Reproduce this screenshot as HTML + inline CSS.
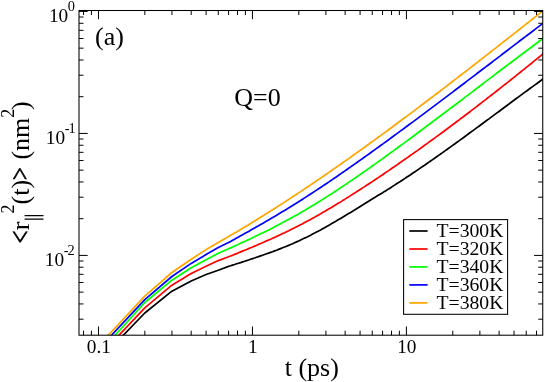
<!DOCTYPE html>
<html><head><meta charset="utf-8"><title>plot</title>
<style>html,body{margin:0;padding:0;background:#fff}svg{display:block;will-change:transform}text{font-family:"Liberation Serif",serif;fill:#000}</style></head><body>
<svg width="545" height="382" viewBox="0 0 545 382">
<rect width="545" height="382" fill="#fff"/>
<defs><clipPath id="c"><rect x="79.0" y="10.5" width="463.75" height="324.7"/></clipPath></defs>
<g clip-path="url(#c)" fill="none" stroke-linejoin="round" stroke-linecap="butt">
<polyline points="98.5,361.0 144.8,313.0 171.9,291.2 191.2,281.0 206.1,274.5 218.3,270.2 228.6,266.4 230.6,265.8 232.6,265.1 234.6,264.5 236.6,263.8 238.6,263.2 240.6,262.6 242.6,261.9 244.6,261.3 246.6,260.6 248.6,260.0 250.6,259.3 252.6,258.6 254.6,258.0 256.6,257.3 258.6,256.6 260.6,255.9 262.6,255.2 264.6,254.5 266.6,253.8 268.6,253.1 270.6,252.4 272.6,251.7 274.6,250.9 276.6,250.2 278.6,249.4 280.6,248.6 282.6,247.8 284.6,247.0 286.6,246.2 288.6,245.4 290.6,244.5 292.6,243.7 294.6,242.8 296.6,241.9 298.6,241.0 300.6,240.1 302.6,239.1 304.6,238.1 306.6,237.2 308.6,236.2 310.6,235.2 312.6,234.1 314.6,233.1 316.6,232.0 318.6,230.9 320.6,229.9 322.6,228.8 324.6,227.7 326.6,226.5 328.6,225.4 330.6,224.3 332.6,223.1 334.6,221.9 336.6,220.8 338.6,219.6 340.6,218.4 342.6,217.2 344.6,216.0 346.6,214.8 348.6,213.6 350.6,212.4 352.6,211.2 354.6,209.9 356.6,208.7 358.6,207.5 360.6,206.2 362.6,205.0 364.6,203.8 366.6,202.5 368.6,201.3 370.6,200.0 372.6,198.8 374.6,197.6 376.6,196.3 378.6,195.1 380.6,193.9 382.6,192.7 384.6,191.4 386.6,190.2 388.6,188.9 390.6,187.7 392.6,186.4 394.6,185.1 396.6,183.8 398.6,182.6 400.6,181.3 402.6,180.0 404.6,178.6 406.6,177.3 408.6,176.0 410.6,174.7 412.6,173.3 414.6,172.0 416.6,170.6 418.6,169.3 420.6,167.9 422.6,166.5 424.6,165.2 426.6,163.8 428.6,162.4 430.6,161.0 432.6,159.6 434.6,158.2 436.6,156.8 438.6,155.4 440.6,154.0 442.6,152.6 444.6,151.1 446.6,149.7 448.6,148.3 450.6,146.9 452.6,145.4 454.6,144.0 456.6,142.5 458.6,141.1 460.6,139.6 462.6,138.2 464.6,136.7 466.6,135.3 468.6,133.8 470.6,132.3 472.6,130.9 474.6,129.4 476.6,127.9 478.6,126.5 480.6,125.0 482.6,123.5 484.6,122.0 486.6,120.5 488.6,119.1 490.6,117.6 492.6,116.1 494.6,114.6 496.6,113.1 498.6,111.7 500.6,110.2 502.6,108.7 504.6,107.2 506.6,105.7 508.6,104.3 510.6,102.8 512.6,101.3 514.6,99.8 516.6,98.3 518.6,96.9 520.6,95.4 522.6,93.9 524.6,92.4 526.6,91.0 528.6,89.5 530.6,88.0 532.6,86.6 534.6,85.1 536.6,83.7 538.6,82.2 540.6,80.7 542.6,79.3 544.6,77.9" stroke="#000000" stroke-width="1.7"/>
<polyline points="98.5,357.0 144.8,307.8 171.9,285.2 191.2,273.4 206.1,266.2 218.3,260.6 228.6,256.8 230.6,256.0 232.6,255.2 234.6,254.4 236.6,253.6 238.6,252.7 240.6,251.9 242.6,251.1 244.6,250.3 246.6,249.5 248.6,248.6 250.6,247.8 252.6,247.0 254.6,246.1 256.6,245.3 258.6,244.4 260.6,243.5 262.6,242.7 264.6,241.8 266.6,240.9 268.6,240.0 270.6,239.2 272.6,238.3 274.6,237.4 276.6,236.4 278.6,235.5 280.6,234.6 282.6,233.6 284.6,232.7 286.6,231.7 288.6,230.8 290.6,229.8 292.6,228.8 294.6,227.8 296.6,226.8 298.6,225.8 300.6,224.7 302.6,223.7 304.6,222.6 306.6,221.5 308.6,220.5 310.6,219.4 312.6,218.3 314.6,217.2 316.6,216.0 318.6,214.9 320.6,213.8 322.6,212.6 324.6,211.5 326.6,210.3 328.6,209.1 330.6,207.9 332.6,206.7 334.6,205.5 336.6,204.3 338.6,203.1 340.6,201.9 342.6,200.6 344.6,199.4 346.6,198.1 348.6,196.9 350.6,195.6 352.6,194.3 354.6,193.1 356.6,191.8 358.6,190.5 360.6,189.2 362.6,187.9 364.6,186.6 366.6,185.3 368.6,184.0 370.6,182.7 372.6,181.4 374.6,180.0 376.6,178.7 378.6,177.4 380.6,176.0 382.6,174.7 384.6,173.3 386.6,171.9 388.6,170.6 390.6,169.2 392.6,167.8 394.6,166.5 396.6,165.1 398.6,163.7 400.6,162.3 402.6,160.9 404.6,159.5 406.6,158.1 408.6,156.7 410.6,155.3 412.6,153.9 414.6,152.5 416.6,151.1 418.6,149.6 420.6,148.2 422.6,146.8 424.6,145.3 426.6,143.9 428.6,142.4 430.6,141.0 432.6,139.5 434.6,138.1 436.6,136.6 438.6,135.1 440.6,133.7 442.6,132.2 444.6,130.7 446.6,129.2 448.6,127.7 450.6,126.3 452.6,124.8 454.6,123.3 456.6,121.8 458.6,120.3 460.6,118.7 462.6,117.2 464.6,115.7 466.6,114.2 468.6,112.7 470.6,111.2 472.6,109.6 474.6,108.1 476.6,106.6 478.6,105.0 480.6,103.5 482.6,101.9 484.6,100.4 486.6,98.8 488.6,97.3 490.6,95.7 492.6,94.2 494.6,92.6 496.6,91.0 498.6,89.5 500.6,87.9 502.6,86.3 504.6,84.7 506.6,83.2 508.6,81.6 510.6,80.0 512.6,78.4 514.6,76.8 516.6,75.2 518.6,73.6 520.6,72.0 522.6,70.4 524.6,68.8 526.6,67.2 528.6,65.6 530.6,64.0 532.6,62.3 534.6,60.7 536.6,59.1 538.6,57.5 540.6,55.9 542.6,54.2 544.6,52.6" stroke="#ff0000" stroke-width="1.7"/>
<polyline points="98.5,353.7 144.8,302.5 171.9,280.2 191.2,267.8 206.1,259.7 218.3,253.3 228.6,248.8 230.6,247.9 232.6,247.0 234.6,246.1 236.6,245.2 238.6,244.3 240.6,243.3 242.6,242.4 244.6,241.5 246.6,240.5 248.6,239.6 250.6,238.7 252.6,237.7 254.6,236.8 256.6,235.8 258.6,234.8 260.6,233.8 262.6,232.9 264.6,231.9 266.6,230.9 268.6,229.9 270.6,228.9 272.6,227.9 274.6,226.8 276.6,225.8 278.6,224.8 280.6,223.7 282.6,222.6 284.6,221.6 286.6,220.5 288.6,219.4 290.6,218.3 292.6,217.2 294.6,216.1 296.6,215.0 298.6,213.9 300.6,212.7 302.6,211.6 304.6,210.4 306.6,209.2 308.6,208.0 310.6,206.8 312.6,205.6 314.6,204.4 316.6,203.2 318.6,201.9 320.6,200.7 322.6,199.4 324.6,198.2 326.6,196.9 328.6,195.6 330.6,194.4 332.6,193.1 334.6,191.8 336.6,190.5 338.6,189.1 340.6,187.8 342.6,186.5 344.6,185.1 346.6,183.8 348.6,182.4 350.6,181.1 352.6,179.7 354.6,178.4 356.6,177.0 358.6,175.6 360.6,174.2 362.6,172.8 364.6,171.4 366.6,170.0 368.6,168.6 370.6,167.2 372.6,165.8 374.6,164.4 376.6,162.9 378.6,161.5 380.6,160.1 382.6,158.6 384.6,157.2 386.6,155.7 388.6,154.3 390.6,152.8 392.6,151.4 394.6,149.9 396.6,148.5 398.6,147.0 400.6,145.5 402.6,144.1 404.6,142.6 406.6,141.1 408.6,139.7 410.6,138.2 412.6,136.7 414.6,135.2 416.6,133.7 418.6,132.3 420.6,130.8 422.6,129.3 424.6,127.8 426.6,126.3 428.6,124.8 430.6,123.3 432.6,121.8 434.6,120.3 436.6,118.8 438.6,117.3 440.6,115.8 442.6,114.3 444.6,112.8 446.6,111.3 448.6,109.8 450.6,108.2 452.6,106.7 454.6,105.2 456.6,103.7 458.6,102.2 460.6,100.7 462.6,99.2 464.6,97.6 466.6,96.1 468.6,94.6 470.6,93.1 472.6,91.6 474.6,90.0 476.6,88.5 478.6,87.0 480.6,85.5 482.6,84.0 484.6,82.4 486.6,80.9 488.6,79.4 490.6,77.9 492.6,76.4 494.6,74.9 496.6,73.3 498.6,71.8 500.6,70.3 502.6,68.8 504.6,67.3 506.6,65.8 508.6,64.2 510.6,62.7 512.6,61.2 514.6,59.7 516.6,58.2 518.6,56.7 520.6,55.2 522.6,53.7 524.6,52.2 526.6,50.7 528.6,49.2 530.6,47.7 532.6,46.2 534.6,44.7 536.6,43.2 538.6,41.7 540.6,40.2 542.6,38.7 544.6,37.2" stroke="#00ff00" stroke-width="1.7"/>
<polyline points="98.5,349.2 144.8,299.6 171.9,276.5 191.2,263.4 206.1,254.6 218.3,247.5 228.6,242.5 230.6,241.4 232.6,240.3 234.6,239.2 236.6,238.0 238.6,236.9 240.6,235.8 242.6,234.7 244.6,233.6 246.6,232.5 248.6,231.4 250.6,230.2 252.6,229.1 254.6,228.0 256.6,226.8 258.6,225.7 260.6,224.5 262.6,223.4 264.6,222.2 266.6,221.1 268.6,219.9 270.6,218.7 272.6,217.6 274.6,216.4 276.6,215.2 278.6,214.0 280.6,212.8 282.6,211.6 284.6,210.4 286.6,209.2 288.6,207.9 290.6,206.7 292.6,205.5 294.6,204.2 296.6,203.0 298.6,201.7 300.6,200.5 302.6,199.2 304.6,197.9 306.6,196.6 308.6,195.3 310.6,194.0 312.6,192.7 314.6,191.4 316.6,190.1 318.6,188.8 320.6,187.5 322.6,186.1 324.6,184.8 326.6,183.5 328.6,182.1 330.6,180.8 332.6,179.4 334.6,178.0 336.6,176.7 338.6,175.3 340.6,173.9 342.6,172.5 344.6,171.1 346.6,169.7 348.6,168.3 350.6,166.9 352.6,165.5 354.6,164.1 356.6,162.7 358.6,161.3 360.6,159.9 362.6,158.5 364.6,157.0 366.6,155.6 368.6,154.2 370.6,152.7 372.6,151.3 374.6,149.9 376.6,148.4 378.6,147.0 380.6,145.5 382.6,144.1 384.6,142.6 386.6,141.2 388.6,139.7 390.6,138.3 392.6,136.8 394.6,135.3 396.6,133.9 398.6,132.4 400.6,130.9 402.6,129.5 404.6,128.0 406.6,126.5 408.6,125.0 410.6,123.5 412.6,122.1 414.6,120.6 416.6,119.1 418.6,117.6 420.6,116.1 422.6,114.6 424.6,113.1 426.6,111.6 428.6,110.1 430.6,108.6 432.6,107.1 434.6,105.6 436.6,104.1 438.6,102.6 440.6,101.1 442.6,99.6 444.6,98.1 446.6,96.6 448.6,95.1 450.6,93.6 452.6,92.1 454.6,90.5 456.6,89.0 458.6,87.5 460.6,86.0 462.6,84.5 464.6,83.0 466.6,81.4 468.6,79.9 470.6,78.4 472.6,76.9 474.6,75.4 476.6,73.8 478.6,72.3 480.6,70.8 482.6,69.3 484.6,67.8 486.6,66.2 488.6,64.7 490.6,63.2 492.6,61.7 494.6,60.1 496.6,58.6 498.6,57.1 500.6,55.6 502.6,54.0 504.6,52.5 506.6,51.0 508.6,49.5 510.6,47.9 512.6,46.4 514.6,44.9 516.6,43.4 518.6,41.8 520.6,40.3 522.6,38.8 524.6,37.3 526.6,35.7 528.6,34.2 530.6,32.7 532.6,31.2 534.6,29.7 536.6,28.1 538.6,26.6 540.6,25.1 542.6,23.6 544.6,22.1" stroke="#0000ff" stroke-width="1.7"/>
<polyline points="98.5,345.7 144.8,296.2 171.9,272.5 191.2,259.2 206.1,249.6 218.3,242.5 228.6,236.5 230.6,235.3 232.6,234.2 234.6,233.0 236.6,231.9 238.6,230.7 240.6,229.5 242.6,228.3 244.6,227.1 246.6,225.9 248.6,224.7 250.6,223.5 252.6,222.2 254.6,221.0 256.6,219.8 258.6,218.5 260.6,217.3 262.6,216.1 264.6,214.8 266.6,213.6 268.6,212.3 270.6,211.0 272.6,209.8 274.6,208.5 276.6,207.2 278.6,205.9 280.6,204.6 282.6,203.4 284.6,202.1 286.6,200.8 288.6,199.5 290.6,198.1 292.6,196.8 294.6,195.5 296.6,194.2 298.6,192.9 300.6,191.6 302.6,190.2 304.6,188.9 306.6,187.5 308.6,186.2 310.6,184.9 312.6,183.5 314.6,182.2 316.6,180.8 318.6,179.4 320.6,178.1 322.6,176.7 324.6,175.3 326.6,174.0 328.6,172.6 330.6,171.2 332.6,169.8 334.6,168.4 336.6,167.0 338.6,165.6 340.6,164.2 342.6,162.8 344.6,161.4 346.6,160.0 348.6,158.6 350.6,157.2 352.6,155.8 354.6,154.3 356.6,152.9 358.6,151.5 360.6,150.0 362.6,148.6 364.6,147.2 366.6,145.7 368.6,144.3 370.6,142.8 372.6,141.4 374.6,139.9 376.6,138.5 378.6,137.0 380.6,135.6 382.6,134.1 384.6,132.6 386.6,131.2 388.6,129.7 390.6,128.2 392.6,126.8 394.6,125.3 396.6,123.8 398.6,122.3 400.6,120.8 402.6,119.3 404.6,117.8 406.6,116.4 408.6,114.9 410.6,113.4 412.6,111.9 414.6,110.4 416.6,108.9 418.6,107.4 420.6,105.8 422.6,104.3 424.6,102.8 426.6,101.3 428.6,99.8 430.6,98.3 432.6,96.8 434.6,95.2 436.6,93.7 438.6,92.2 440.6,90.7 442.6,89.1 444.6,87.6 446.6,86.1 448.6,84.5 450.6,83.0 452.6,81.5 454.6,79.9 456.6,78.4 458.6,76.8 460.6,75.3 462.6,73.8 464.6,72.2 466.6,70.7 468.6,69.1 470.6,67.6 472.6,66.0 474.6,64.5 476.6,62.9 478.6,61.3 480.6,59.8 482.6,58.2 484.6,56.7 486.6,55.1 488.6,53.6 490.6,52.0 492.6,50.4 494.6,48.9 496.6,47.3 498.6,45.7 500.6,44.2 502.6,42.6 504.6,41.0 506.6,39.5 508.6,37.9 510.6,36.3 512.6,34.8 514.6,33.2 516.6,31.6 518.6,30.0 520.6,28.5 522.6,26.9 524.6,25.3 526.6,23.7 528.6,22.2 530.6,20.6 532.6,19.0 534.6,17.4 536.6,15.9 538.6,14.3 540.6,12.7 542.6,11.1 544.6,9.6" stroke="#ffa500" stroke-width="1.7"/>
</g>
<path d="M83.56,335.2v-4.5M83.56,10.5v4.5M91.43,335.2v-4.5M91.43,10.5v4.5M98.48,335.2v-8.7M98.48,10.5v8.7M144.83,335.2v-4.5M144.83,10.5v4.5M171.94,335.2v-4.5M171.94,10.5v4.5M191.18,335.2v-4.5M191.18,10.5v4.5M206.10,335.2v-4.5M206.10,10.5v4.5M218.29,335.2v-4.5M218.29,10.5v4.5M228.60,335.2v-4.5M228.60,10.5v4.5M237.53,335.2v-4.5M237.53,10.5v4.5M245.40,335.2v-4.5M245.40,10.5v4.5M252.45,335.2v-8.7M252.45,10.5v8.7M298.80,335.2v-4.5M298.80,10.5v4.5M325.91,335.2v-4.5M325.91,10.5v4.5M345.15,335.2v-4.5M345.15,10.5v4.5M360.07,335.2v-4.5M360.07,10.5v4.5M372.26,335.2v-4.5M372.26,10.5v4.5M382.57,335.2v-4.5M382.57,10.5v4.5M391.50,335.2v-4.5M391.50,10.5v4.5M399.37,335.2v-4.5M399.37,10.5v4.5M406.42,335.2v-8.7M406.42,10.5v8.7M452.77,335.2v-4.5M452.77,10.5v4.5M479.88,335.2v-4.5M479.88,10.5v4.5M499.12,335.2v-4.5M499.12,10.5v4.5M514.04,335.2v-4.5M514.04,10.5v4.5M526.23,335.2v-4.5M526.23,10.5v4.5M536.54,335.2v-4.5M536.54,10.5v4.5M79.0,319.19h4.5M542.75,319.19h-4.5M79.0,303.95h4.5M542.75,303.95h-4.5M79.0,292.13h4.5M542.75,292.13h-4.5M79.0,282.47h4.5M542.75,282.47h-4.5M79.0,274.30h4.5M542.75,274.30h-4.5M79.0,267.23h4.5M542.75,267.23h-4.5M79.0,260.99h4.5M542.75,260.99h-4.5M79.0,255.41h8.7M542.75,255.41h-8.7M79.0,218.69h4.5M542.75,218.69h-4.5M79.0,197.21h4.5M542.75,197.21h-4.5M79.0,181.97h4.5M542.75,181.97h-4.5M79.0,170.15h4.5M542.75,170.15h-4.5M79.0,160.49h4.5M542.75,160.49h-4.5M79.0,152.32h4.5M542.75,152.32h-4.5M79.0,145.25h4.5M542.75,145.25h-4.5M79.0,139.01h4.5M542.75,139.01h-4.5M79.0,133.43h8.7M542.75,133.43h-8.7M79.0,96.71h4.5M542.75,96.71h-4.5M79.0,75.23h4.5M542.75,75.23h-4.5M79.0,59.99h4.5M542.75,59.99h-4.5M79.0,48.17h4.5M542.75,48.17h-4.5M79.0,38.51h4.5M542.75,38.51h-4.5M79.0,30.34h4.5M542.75,30.34h-4.5M79.0,23.27h4.5M542.75,23.27h-4.5M79.0,17.03h4.5M542.75,17.03h-4.5M79.0,11.45h8.7M542.75,11.45h-8.7" stroke="#000" stroke-width="1.0" fill="none"/>
<rect x="79.0" y="10.5" width="463.75" height="324.7" fill="none" stroke="#000" stroke-width="1.05"/>
<rect x="403.6" y="219.6" width="104" height="94.7" fill="#fff" stroke="#000" stroke-width="1.05"/>
<line x1="409.3" y1="231.0" x2="427.6" y2="231.0" stroke="#000000" stroke-width="1.7"/>
<text x="436.5" y="237.3" font-size="19.7">T=300K</text>
<line x1="409.3" y1="249.0" x2="427.6" y2="249.0" stroke="#ff0000" stroke-width="1.7"/>
<text x="436.5" y="255.3" font-size="19.7">T=320K</text>
<line x1="409.3" y1="266.9" x2="427.6" y2="266.9" stroke="#00ff00" stroke-width="1.7"/>
<text x="436.5" y="273.2" font-size="19.7">T=340K</text>
<line x1="409.3" y1="284.9" x2="427.6" y2="284.9" stroke="#0000ff" stroke-width="1.7"/>
<text x="436.5" y="291.2" font-size="19.7">T=360K</text>
<line x1="409.3" y1="302.9" x2="427.6" y2="302.9" stroke="#ffa500" stroke-width="1.7"/>
<text x="436.5" y="309.2" font-size="19.7">T=380K</text>
<text x="98.9" y="353.1" font-size="19.3" text-anchor="middle">0.1</text>
<text x="252.8" y="353.1" font-size="19.3" text-anchor="middle">1</text>
<text x="406.8" y="353.1" font-size="19.3" text-anchor="middle">10</text>
<text x="68.2" y="21.8" font-size="19.3" text-anchor="end">10</text>
<text x="67.8" y="11.2" font-size="14.4" letter-spacing="-0.9">0</text>
<text x="65.1" y="143.7" font-size="19.3" text-anchor="end">10</text>
<text x="64.7" y="132.5" font-size="14.4" letter-spacing="-0.9">-1</text>
<text x="64.1" y="265.7" font-size="19.3" text-anchor="end">10</text>
<text x="63.7" y="254.5" font-size="14.4" letter-spacing="-0.9">-2</text>
<text x="95" y="44.6" font-size="26">(a)</text>
<text x="234.3" y="105.8" font-size="26">Q=0</text>
<text x="284.7" y="375.9" font-size="26">t (ps)</text>
<g transform="translate(28.6,242.1) rotate(-90)" font-size="26"><text transform="translate(-1.12,1.11) scale(0.86,1.12)" stroke="#000" stroke-width="0.6">&lt;</text><text x="11.9" y="0">r</text><path d="M22.9,-4V14.9M26.4,-4V14.9" stroke="#000" stroke-width="1.2" fill="none"/><text x="28.7" y="-15" font-size="18">2</text><text x="37.7" y="0">(t)</text><text transform="translate(61.83,0.6) scale(0.9,1.07)" stroke="#000" stroke-width="0.6">&gt;</text><text x="82.5" y="0">(nm</text><text x="124.4" y="-15" font-size="18">2</text><text x="132.2" y="0">)</text></g>
</svg></body></html>
